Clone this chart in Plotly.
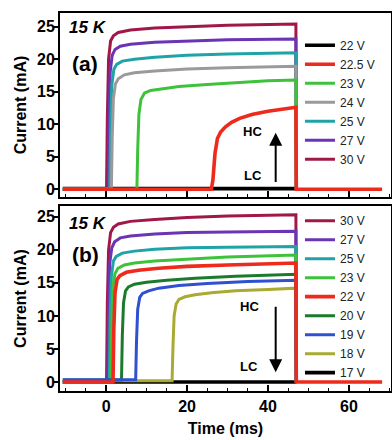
import plotly.graph_objects as go

FONT = "Liberation Sans, Arial, sans-serif"

# ---------------- Panel (a) data ----------------
a_labels = ["22 V", "22.5 V", "23 V", "24 V", "25 V", "27 V", "30 V"]
a_colors = ["#000000", "#ee2a1c", "#3ec23a", "#9a9a9a", "#1fa3a6", "#6a34b4", "#a0184a"]

a_t_22 = [-10.7, 47.0]
a_i_22 = [0.1, 0.1]
a_t_225 = [-10.7, 26.0, 26.4, 26.9, 27.5, 28.3, 29.5, 31, 33, 36, 40, 44, 46.9, 47.0, 68.2]
a_i_225 = [0, 0, 1.5, 5.5, 7.8, 8.8, 9.6, 10.3, 10.9, 11.5, 12.0, 12.4, 12.6, 0, 0]
a_t_23 = [-10.7, 7.6, 7.8, 8.1, 8.6, 9.5, 11, 14, 18, 25, 32, 40, 46.9, 47.0]
a_i_23 = [0, 0, 6, 11.5, 13.8, 14.8, 15.2, 15.5, 15.8, 16.1, 16.4, 16.7, 16.8, 0]
a_t_24 = [-10.7, 1.3, 1.5, 1.8, 2.3, 3, 4.5, 7, 12, 20, 30, 40, 46.9, 47.0]
a_i_24 = [0, 0, 8, 14, 16.2, 17.0, 17.6, 17.9, 18.2, 18.5, 18.7, 18.8, 18.9, 0]
a_t_25 = [-10.7, 0.9, 1.1, 1.4, 1.9, 2.6, 4, 7, 12, 20, 30, 46.9, 47.0]
a_i_25 = [0, 0, 9, 16, 18.4, 19.2, 19.7, 20.0, 20.3, 20.6, 20.8, 21.0, 0]
a_t_27 = [-10.7, 0.5, 0.7, 1.0, 1.5, 2.2, 3.5, 6, 12, 20, 30, 46.9, 47.0]
a_i_27 = [0, 0, 10, 18, 20.6, 21.5, 22.0, 22.3, 22.6, 22.8, 23.0, 23.1, 0]
a_t_30 = [-10.7, 0.1, 0.3, 0.6, 1.1, 1.8, 3, 6, 12, 20, 30, 46.9, 47.0]
a_i_30 = [0, 0, 11, 20, 22.8, 23.6, 24.1, 24.5, 24.8, 25.0, 25.2, 25.4, 0]

# ---------------- Panel (b) data ----------------
b_labels = ["30 V", "27 V", "25 V", "23 V", "22 V", "20 V", "19 V", "18 V", "17 V"]
b_colors = ["#a0184a", "#6a34b4", "#1fa3a6", "#3ec23a", "#ee2a1c", "#1c7a2c", "#2f50d0", "#a9aa32", "#000000"]

b_t_30 = [-10.7, 0.1, 0.3, 0.6, 1.1, 1.8, 3, 6, 12, 20, 30, 46.9, 47.0]
b_i_30 = [0, 0, 12, 20, 22.6, 23.4, 23.9, 24.3, 24.6, 24.9, 25.1, 25.3, 0]
b_t_27 = [-10.7, 0.4, 0.6, 0.9, 1.4, 2.1, 3.5, 6, 12, 20, 30, 46.9, 47.0]
b_i_27 = [0, 0, 11, 18, 20.3, 21.2, 21.8, 22.1, 22.4, 22.6, 22.7, 22.8, 0]
b_t_25 = [-10.7, 0.8, 1.0, 1.3, 1.8, 2.5, 4, 7, 12, 20, 30, 46.9, 47.0]
b_i_25 = [0, 0, 10, 16, 18.3, 19.0, 19.5, 19.8, 20.1, 20.3, 20.4, 20.5, 0]
b_t_23 = [-10.7, 1.2, 1.4, 1.7, 2.2, 2.9, 4.5, 7, 12, 20, 30, 46.9, 47.0]
b_i_23 = [0, 0, 9, 14.5, 16.4, 17.2, 17.7, 18.0, 18.3, 18.6, 18.9, 19.2, 0]
b_t_22 = [-10.7, 1.7, 1.9, 2.2, 2.7, 3.4, 5, 8, 13, 20, 30, 40, 46.9, 47.0, 68.2]
b_i_22 = [0, 0, 8, 13.5, 15.5, 16.1, 16.6, 16.9, 17.2, 17.5, 17.7, 17.9, 18.0, 0, 0]
b_t_20 = [-10.7, 3.8, 4.0, 4.3, 4.8, 5.5, 7, 10, 15, 22, 32, 46.9, 47.0]
b_i_20 = [0.3, 0.3, 7, 12, 13.8, 14.4, 14.8, 15.1, 15.4, 15.7, 16.0, 16.3, 0]
b_t_19 = [-10.7, 7.3, 7.5, 7.8, 8.3, 9, 10.5, 13, 18, 25, 35, 46.9, 47.0]
b_i_19 = [0.35, 0.35, 6, 11, 12.8, 13.4, 13.8, 14.2, 14.6, 14.9, 15.2, 15.4, 0]
b_t_18 = [-10.7, 16.3, 16.5, 16.8, 17.3, 18, 19.5, 22, 26, 32, 40, 46.9, 47.0]
b_i_18 = [0.2, 0.2, 5, 10, 11.8, 12.5, 12.9, 13.2, 13.5, 13.8, 14.0, 14.2, 0]
b_t_17 = [-10.7, 47.0]
b_i_17 = [0, 0]

x_ticks = [0, 20, 40, 60]
y_ticks = [0, 5, 10, 15, 20, 25]

fig = go.Figure()

def add(t, i, name, color, rank, xa, ya, legend, width=3.0):
    fig.add_trace(go.Scatter(
        x=t, y=i, mode="lines", name=name,
        line=dict(color=color, width=width),
        xaxis=xa, yaxis=ya, legend=legend, legendrank=rank,
        hoverinfo="skip"))

a_series = {
    "22 V": (a_t_22, a_i_22), "22.5 V": (a_t_225, a_i_225), "23 V": (a_t_23, a_i_23),
    "24 V": (a_t_24, a_i_24), "25 V": (a_t_25, a_i_25), "27 V": (a_t_27, a_i_27),
    "30 V": (a_t_30, a_i_30),
}
for name in ["22 V", "30 V", "27 V", "25 V", "24 V", "23 V", "22.5 V"]:
    k = a_labels.index(name)
    t, i = a_series[name]
    w = 3.6 if name in ("22 V", "22.5 V") else 3.0
    add(t, i, name, a_colors[k], k + 1, "x", "y", "legend", width=w)

b_series = {
    "30 V": (b_t_30, b_i_30), "27 V": (b_t_27, b_i_27), "25 V": (b_t_25, b_i_25),
    "23 V": (b_t_23, b_i_23), "22 V": (b_t_22, b_i_22), "20 V": (b_t_20, b_i_20),
    "19 V": (b_t_19, b_i_19), "18 V": (b_t_18, b_i_18), "17 V": (b_t_17, b_i_17),
}
for name in ["17 V", "18 V", "30 V", "27 V", "25 V", "23 V", "20 V", "19 V", "22 V"]:
    k = b_labels.index(name)
    t, i = b_series[name]
    w = 3.6 if name in ("17 V", "22 V") else 3.0
    add(t, i, name, b_colors[k], k + 1, "x2", "y2", "legend2", width=w)

axis_common = dict(showline=True, linecolor="black", linewidth=2, mirror=True,
                   showgrid=False, zeroline=False, automargin=False)
x_common = dict(axis_common, range=[-11.4, 70.4], tickvals=x_ticks, ticks="inside",
                ticklen=6, tickwidth=1.5, tickcolor="black",
                minor=dict(dtick=5, ticks="inside", ticklen=3, tickwidth=1.2, tickcolor="black"))
y_common = dict(axis_common, tickvals=y_ticks, ticks="outside", ticklen=4, tickwidth=1.5,
                tickcolor="black", ticklabelstandoff=-4,
                tickfont=dict(family=FONT, size=16, color="black", weight="bold"),
                title=dict(text="Current (mA)", font=dict(family=FONT, size=16, color="black", weight="bold"),
                           standoff=6))

fig.update_layout(
    width=392, height=440,
    margin=dict(l=60, r=1, t=13, b=49),
    paper_bgcolor="white", plot_bgcolor="white",
    font=dict(family=FONT, color="black"),
    xaxis=dict(x_common, domain=[0, 1], anchor="y", showticklabels=False),
    yaxis=dict(y_common, domain=[0.513, 1], anchor="x", range=[-1.2, 27.1]),
    xaxis2=dict(x_common, domain=[0, 1], anchor="y2",
                tickfont=dict(family=FONT, size=16, color="black", weight="bold"),
                title=dict(text="Time (ms)", font=dict(family=FONT, size=16, color="black", weight="bold"),
                           standoff=9)),
    yaxis2=dict(y_common, domain=[0, 0.489], anchor="x2", range=[-1.35, 26.6]),
    legend=dict(x=0.725, y=0.953, xanchor="left", yanchor="top", bgcolor="rgba(0,0,0,0)",
                font=dict(family=FONT, size=12, color="#222"), itemwidth=30,
                tracegroupgap=0, traceorder="normal"),
    legend2=dict(x=0.725, y=0.489, xanchor="left", yanchor="top", bgcolor="rgba(0,0,0,0)",
                 font=dict(family=FONT, size=12, color="#222"), itemwidth=30,
                 tracegroupgap=0, traceorder="normal"),
    showlegend=True,
)

ann = []
for xr, yr, ky, lab in [("x", "y", 24.9, "(a)"), ("x2", "y2", 24.0, "(b)")]:
    ann.append(dict(x=-9.6, y=ky, xref=xr, yref=yr, text="<b><i>15 K</i></b>", showarrow=False,
                    xanchor="left", yanchor="middle", font=dict(family=FONT, size=17, color="black")))
    ann.append(dict(x=-9.0, y=19.3, xref=xr, yref=yr, text="<b>" + lab + "</b>", showarrow=False,
                    xanchor="left", yanchor="middle", font=dict(family=FONT, size=21, color="black")))

ann += [
    dict(x=36.2, y=8.9, xref="x", yref="y", text="<b>HC</b>", showarrow=False,
         font=dict(family=FONT, size=13, color="black")),
    dict(x=36.2, y=2.1, xref="x", yref="y", text="<b>LC</b>", showarrow=False,
         font=dict(family=FONT, size=13, color="black")),
    dict(x=41.9, y=8.7, ax=41.9, ay=0.9, xref="x", yref="y", axref="x", ayref="y",
         text="", showarrow=True, arrowhead=2, arrowsize=1.3, arrowwidth=2, arrowcolor="black"),
    dict(x=35.4, y=11.4, xref="x2", yref="y2", text="<b>HC</b>", showarrow=False,
         font=dict(family=FONT, size=13, color="black")),
    dict(x=35.2, y=2.3, xref="x2", yref="y2", text="<b>LC</b>", showarrow=False,
         font=dict(family=FONT, size=13, color="black")),
    dict(x=41.9, y=1.5, ax=41.9, ay=11.6, xref="x2", yref="y2", axref="x2", ayref="y2",
         text="", showarrow=True, arrowhead=2, arrowsize=1.3, arrowwidth=2, arrowcolor="black"),
]
fig.update_layout(annotations=ann)

fig.write_html("out.html", config={"displayModeBar": False},
               post_script="document.body.style.margin='0px';")
